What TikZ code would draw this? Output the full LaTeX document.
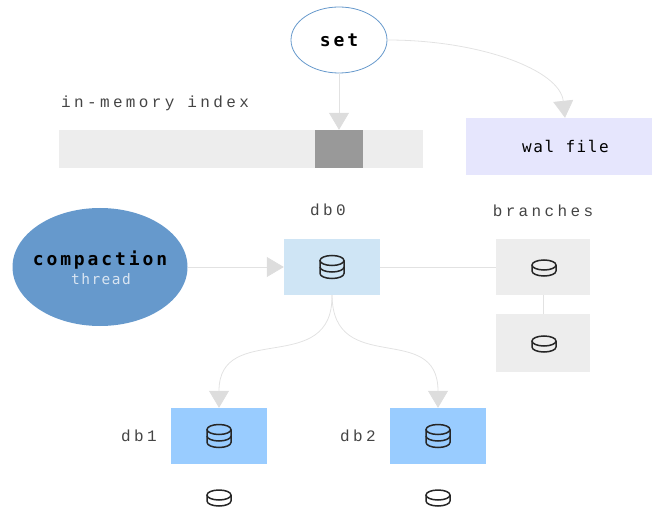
\documentclass[tikz,border=0pt]{standalone}
\usepackage{fontspec}
\usetikzlibrary{arrows.meta,shapes.geometric}
\newfontfamily\labelfont[LetterSpace=21]{Liberation Mono}
\newfontfamily\plainfont[LetterSpace=10]{DejaVu Sans Mono}
\newfontfamily\boldfont[LetterSpace=16]{DejaVu Sans Mono Bold}
\definecolor{linegray}{HTML}{E2E2E2}
\definecolor{tipgray}{HTML}{DDDDDD}
\definecolor{barfill}{HTML}{EDEDED}
\definecolor{slotfill}{HTML}{999999}
\definecolor{walfill}{HTML}{E6E6FD}
\definecolor{topfill}{HTML}{CFE5F5}
\definecolor{levelfill}{HTML}{99CCFF}
\definecolor{threadfill}{HTML}{6699CC}
\definecolor{labelgray}{HTML}{444444}
\tikzset{
  conn/.style={draw=linegray, line width=0.8pt},
  flow/.style={conn, -{Triangle[length=17pt, width=20pt, color=tipgray]}},
  label/.style={font=\labelfont\fontsize{16}{16}\selectfont, text=labelgray, inner sep=0pt},
  box/.style={rectangle, inner sep=0pt, minimum width=96pt, minimum height=56pt},
  icon/.style={line width=1.5pt, draw=black!85},
  disk/.pic={
    \draw[icon] (0,-3) ellipse (12pt and 5pt);
    \draw[icon] (-12,-3) -- (-12,3) arc (180:360:12pt and 5pt) -- (12,-3);
  },
  stack/.pic={
    \draw[icon] (0,-6.5) ellipse (12pt and 5pt);
    \draw[icon] (-12,-6.5) -- (-12,6.5) arc (180:360:12pt and 5pt) -- (12,-6.5);
    \draw[icon] (-12,0) arc (180:360:12pt and 5pt);
  },
}
\begin{document}
\begin{tikzpicture}[x=1pt, y=-1pt]
\useasboundingbox (0,0) rectangle (652,510);

% write path
\node[ellipse, draw=threadfill, line width=0.8pt, fill=white, inner sep=0pt, minimum width=96pt, minimum height=66pt] (setop) at (339,40) {\boldfont\fontsize{18}{18}\selectfont set};
\node[rectangle, fill=barfill, inner sep=0pt, minimum width=364pt, minimum height=38pt] (indexbar) at (241,149) {};
\node[rectangle, fill=slotfill, inner sep=0pt, minimum width=48pt, minimum height=38pt] (slot) at (339,149) {};
\node[rectangle, fill=walfill, inner sep=0pt, minimum width=186pt, minimum height=57pt] (walfile) at (559,146.5) {};
\node[inner sep=0pt, font=\plainfont\fontsize{16}{16}\selectfont] (walname) at (565.5,146) {wal file};
\node[label, anchor=west] (indexlabel) at (61,103) {in-memory index};

\draw[flow] (setop.east) .. controls (480,40) and (560,70) .. ([xshift=6pt]walfile.north);
\draw[flow] (setop.south) -- (slot.north);

% levels
\node[ellipse, fill=threadfill, inner sep=0pt, minimum width=175pt, minimum height=118pt] (compaction) at (100,267) {};
\node[inner sep=0pt, font=\boldfont\fontsize{18}{18}\selectfont] (compname) at (100,260) {compaction};
\node[inner sep=0pt, font=\plainfont\fontsize{14.5}{15}\selectfont, text=white!75!threadfill] (compthread) at (101,279) {thread};

\node[box, fill=topfill] (db0) at (332,267) {};
\node[box, fill=barfill, minimum width=94pt] (branch1) at (543,267) {};
\node[box, fill=barfill, minimum width=94pt, minimum height=58pt] (branch2) at (543,343) {};
\node[box, fill=levelfill] (db1) at (219,436) {};
\node[box, fill=levelfill] (db2) at (438,436) {};

\node[label] (db0label) at (328,210) {db0};
\node[label] (branchlabel) at (543,211) {branches};
\node[label] (db1label) at (139,436) {db1};
\node[label] (db2label) at (358,436) {db2};

\draw[flow] (compaction.east) -- (db0.west);
\draw[conn] (db0.east) -- (branch1.west);
\draw[conn] (branch1.south) -- (branch2.north);
\draw[flow] (db0.south) .. controls (333,378) and (219,320) .. (db1.north);
\draw[flow] (db0.south) .. controls (333,378) and (438,320) .. (db2.north);

\pic at (332,267) {stack};
\pic at (544,268) {disk};
\pic at (544,344) {disk};
\pic at (219,436) {stack};
\pic at (438,436) {stack};
\pic at (219,498) {disk};
\pic at (438,498) {disk};
\end{tikzpicture}
\end{document}
